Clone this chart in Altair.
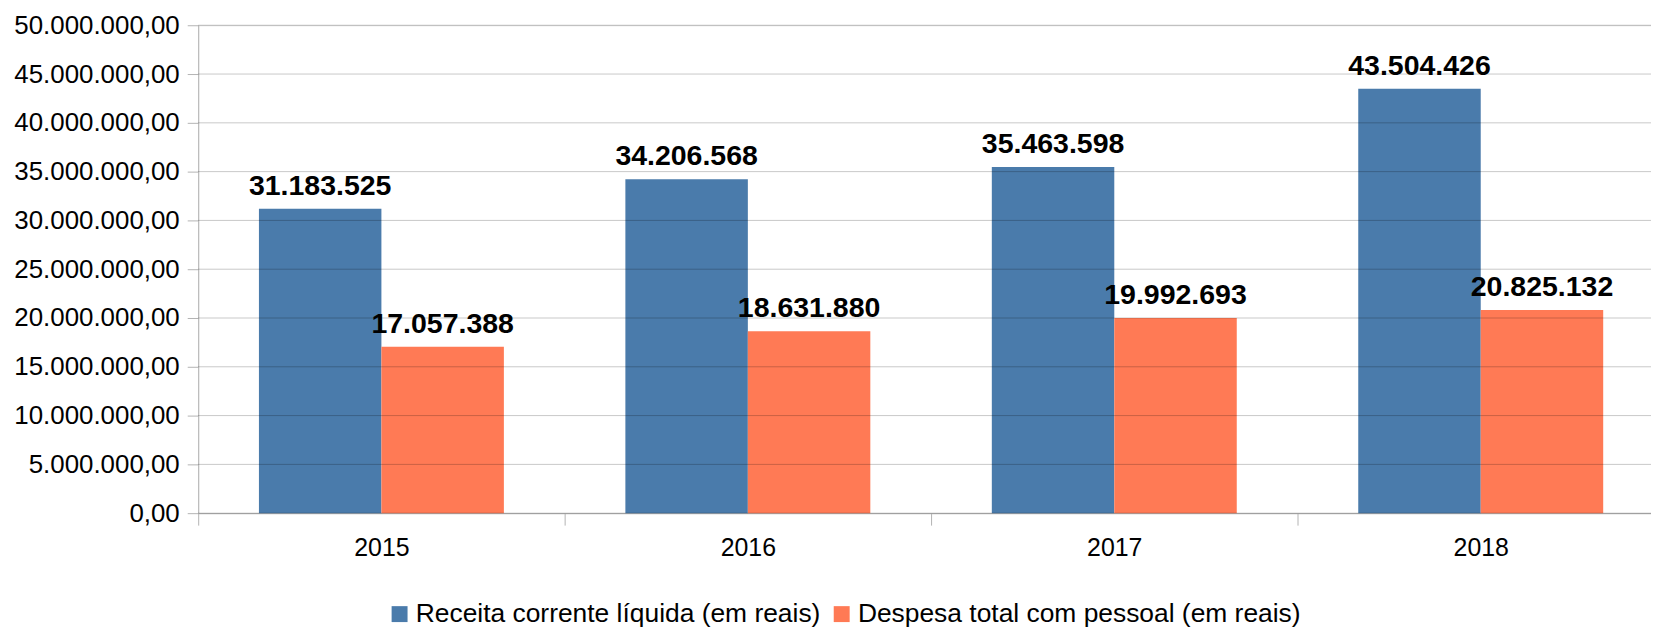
import altair as alt
import pandas as pd

years = ["2015", "2016", "2017", "2018"]
receita = [31183525, 34206568, 35463598, 43504426]
despesa = [17057388, 18631880, 19992693, 20825132]
series = ["Receita corrente líquida (em reais)", "Despesa total com pessoal (em reais)"]
colors = ["#4a7bab", "#ff7a55"]
y_ticks = [0, 5000000, 10000000, 15000000, 20000000, 25000000,
           30000000, 35000000, 40000000, 45000000, 50000000]

rows = []
for i, yr in enumerate(years):
    rows.append({"ano": yr, "serie": series[0], "valor": receita[i]})
    rows.append({"ano": yr, "serie": series[1], "valor": despesa[i]})
df = pd.DataFrame(rows)
grid_df = pd.DataFrame({"valor": y_ticks})

FONT = "Liberation Sans"
W = 1472
H = 490
GRAY = "#b3b3b3"

x_enc = alt.X(
    "ano:N", title=None, sort=years,
    scale=alt.Scale(paddingInner=0, paddingOuter=0),
    axis=alt.Axis(tickBand="extent", labelAngle=0, labelFontSize=25, labelFont=FONT,
                  labelColor="black", tickSize=12, tickColor=GRAY, domainColor=GRAY,
                  labelPadding=11, grid=False),
)
y_enc = alt.Y(
    "valor:Q", title=None,
    scale=alt.Scale(domain=[0, 50000000], nice=False),
    axis=alt.Axis(values=y_ticks, format=",.2f", labelFontSize=26, labelFont=FONT,
                  labelColor="black", tickSize=11, tickColor=GRAY, domainColor=GRAY,
                  labelPadding=8, grid=False),
)
xoff = alt.XOffset("serie:N", sort=series,
                   scale=alt.Scale(paddingInner=0, paddingOuter=0.496))

base = alt.Chart(df)

bars = base.mark_bar().encode(
    x=x_enc, y=y_enc, xOffset=xoff,
    color=alt.Color(
        "serie:N", sort=series,
        scale=alt.Scale(domain=series, range=colors),
        legend=alt.Legend(orient="none", legendX=189, legendY=578, direction="horizontal",
                          columns=2, title=None, symbolType="square", symbolSize=256,
                          symbolStrokeWidth=0, labelFontSize=26.5, labelFont=FONT,
                          labelColor="black", labelOffset=3, columnPadding=7,
                          padding=0, labelLimit=1000),
    ),
)

grid = alt.Chart(grid_df).mark_rule(color="black", opacity=0.22, strokeWidth=1).encode(
    y=y_enc, x=alt.value(0), x2=alt.value(1459)
)

labels = base.mark_text(font=FONT, fontSize=28.6, fontWeight="bold", baseline="alphabetic",
                        dy=-14, color="black").encode(
    x=x_enc, y=y_enc, xOffset=xoff,
    text=alt.Text("valor:Q", format=",d"),
)

chart = alt.layer(bars, grid, labels).properties(
    width=W, height=H,
    autosize=alt.AutoSizeParams(type="none"),
    padding={"left": 191, "top": 16, "right": -13, "bottom": 114},
    background="white",
).configure_view(stroke=None).configure(
    locale=alt.Locale(number=alt.NumberLocale(decimal=",", thousands=".", grouping=[3],
                                              currency=["R$", ""]))
)

chart.save("out.html", embed_options={"renderer": "svg", "actions": False})
